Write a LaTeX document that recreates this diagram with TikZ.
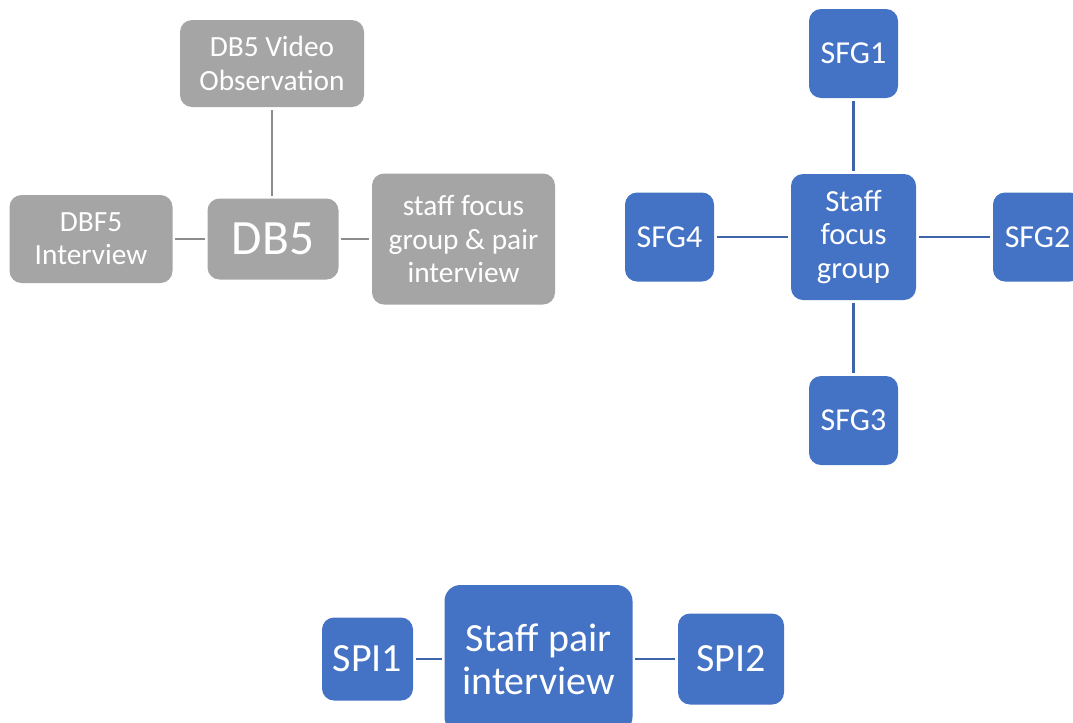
\documentclass[tikz,border=0pt]{standalone}
\usepackage{fontspec}
\setmainfont{Carlito}
\usepackage{tikz}
\usetikzlibrary{arrows.meta,positioning}
\definecolor{boxgrey}{HTML}{A5A5A5}
\definecolor{linegrey}{HTML}{8C8C8C}
\definecolor{boxblue}{HTML}{4472C4}
\definecolor{lineblue}{HTML}{3D65AE}

\begin{document}
\begin{tikzpicture}[x=0.75pt,y=-0.75pt,
  box/.style={rectangle,rounded corners=9pt,text=white,align=center,inner sep=0pt},
  greybox/.style={box,fill=boxgrey,font=\fontsize{22}{25}\selectfont},
  bluebox/.style={box,fill=boxblue,font=\fontsize{23}{25}\selectfont},
  conn/.style={line width=2pt,shorten <=2pt,shorten >=2pt}]
\useasboundingbox (0,0) rectangle (1073,722);
% grey cluster
\node[greybox,minimum width=184*0.75pt,minimum height=87*0.75pt] (vid) at (272,63.5) {DB5 Video\\Observation};
\node[greybox,minimum width=163*0.75pt,minimum height=88*0.75pt] (dbf) at (91,239) {DBF5\\Interview};
\node[greybox,minimum width=131*0.75pt,minimum height=81*0.75pt,font=\fontsize{37}{44}\selectfont] (db5) at (273,239) {DB5};
\node[greybox,minimum width=183*0.75pt,minimum height=131*0.75pt] (sfp) at (463.5,239) {staff focus\\group \& pair\\interview};
% staff focus group
\node[bluebox,minimum width=125*0.75pt,minimum height=126*0.75pt] (sfg) at (853.5,237) {Staff\\focus\\group};
\node[bluebox,minimum size=89*0.75pt,font=\fontsize{24}{29}\selectfont] (sfg1) at (853.5,53.5) {SFG1};
\node[bluebox,minimum size=89*0.75pt,font=\fontsize{24}{29}\selectfont] (sfg2) at (1037.5,237) {SFG2};
\node[bluebox,minimum size=89*0.75pt,font=\fontsize{24}{29}\selectfont] (sfg3) at (853.5,420.5) {SFG3};
\node[bluebox,minimum size=89*0.75pt,font=\fontsize{24}{29}\selectfont] (sfg4) at (669.5,237) {SFG4};
% staff pair interview
\node[bluebox,minimum width=188*0.75pt,minimum height=148*0.75pt,font=\fontsize{30}{32}\selectfont,rounded corners=12pt] (spi) at (538.5,659) {Staff pair\\interview};
\node[bluebox,minimum width=91*0.75pt,minimum height=83*0.75pt,font=\fontsize{30}{32}\selectfont] (spi1) at (367.5,659) {SPI1};
\node[bluebox,minimum width=106*0.75pt,minimum height=91*0.75pt,font=\fontsize{30}{32}\selectfont] (spi2) at (731,659) {SPI2};
\path[conn,draw=linegrey]
(vid) edge (vid |- db5.north)
(dbf) edge (db5)
(db5) edge (sfp);
\path[conn,draw=lineblue]
(sfg) edge (sfg1)
(sfg) edge (sfg2)
(sfg) edge (sfg3)
(sfg) edge (sfg4)
(spi1) edge (spi)
(spi) edge (spi2);
\end{tikzpicture}
\end{document}
